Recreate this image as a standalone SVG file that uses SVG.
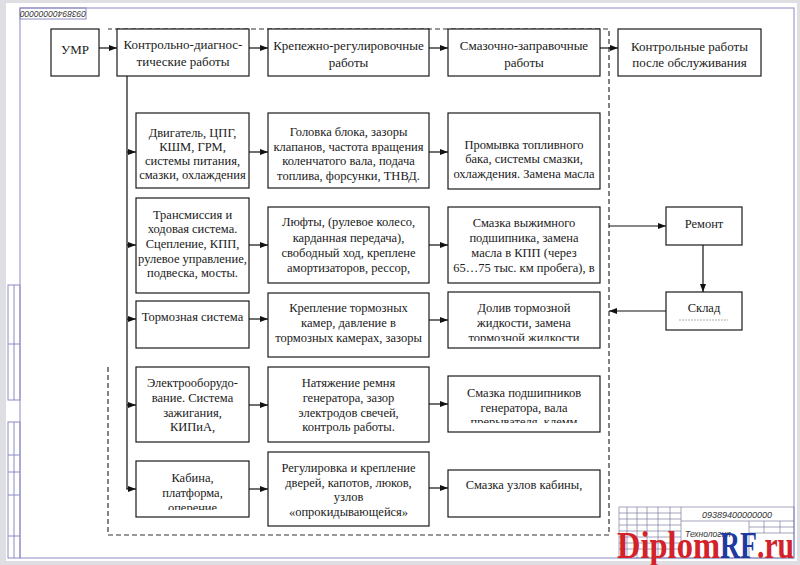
<svg xmlns="http://www.w3.org/2000/svg" width="800" height="565" viewBox="0 0 800 565">
<defs>
<style>
.bx{fill:#fff;stroke:#1a1a1a;stroke-width:1.2}
.t{font-family:"Liberation Serif","Times New Roman",serif;font-size:12.5px;fill:#1a1a1a;text-anchor:middle}
.tt{font-family:"Liberation Serif","Times New Roman",serif;font-size:13px;fill:#1a1a1a;text-anchor:middle}
.c{fill:none;stroke:#111;stroke-width:1.2}
.a{fill:none;stroke:#111;stroke-width:1.2;marker-end:url(#ah)}
.fr{fill:none;stroke:#8c8cc4;stroke-width:1}
.tb{fill:none;stroke:#6a6a96;stroke-width:0.6}
.it{font-family:"Liberation Sans",Arial,sans-serif;font-style:italic;fill:#333}
</style>
<marker id="ah" markerUnits="userSpaceOnUse" markerWidth="8" markerHeight="6" refX="8" refY="3" orient="auto">
<path d="M0,0 L8,3 L0,6 z" fill="#111"/>
</marker>
<clipPath id="cR3"><rect x="448" y="292" width="152" height="49"/></clipPath>
<clipPath id="cR4"><rect x="448" y="376" width="152" height="47"/></clipPath>
<clipPath id="cL5"><rect x="136" y="461" width="113" height="49"/></clipPath>
</defs>

<!-- sheet -->
<rect x="0" y="0" width="800" height="565" fill="#dedee3"/>
<rect x="6" y="3" width="791" height="558" fill="#fff"/>
<g id="frame">
<rect class="fr" x="20" y="8" width="774" height="550"/>
<rect class="fr" x="8" y="285" width="12" height="115"/>
<line class="fr" x1="14" y1="285" x2="14" y2="400"/>
<line class="fr" x1="8" y1="344" x2="20" y2="344"/>
<rect class="fr" x="8" y="422" width="12" height="136"/>
<line class="fr" x1="14" y1="422" x2="14" y2="558"/>
<line class="fr" x1="8" y1="455" x2="20" y2="455"/>
<line class="fr" x1="8" y1="472" x2="20" y2="472"/>
<line class="fr" x1="8" y1="495" x2="20" y2="495"/>
<line class="fr" x1="8" y1="536" x2="20" y2="536"/>
<rect class="fr" x="20" y="8" width="66" height="11"/>
<text class="it" font-size="8.5" transform="rotate(180 53 13.5)" x="53" y="16.5" text-anchor="middle">09389400000000</text>
</g>

<g id="titleblock">
<rect class="tb" x="619" y="507" width="175" height="51"/>
<line class="tb" x1="627" y1="507" x2="627" y2="558"/>
<line class="tb" x1="637" y1="507" x2="637" y2="558"/>
<line class="tb" x1="647" y1="507" x2="647" y2="558"/>
<line class="tb" x1="658" y1="507" x2="658" y2="558"/>
<line class="tb" x1="670" y1="507" x2="670" y2="558"/>
<line class="tb" x1="681" y1="507" x2="681" y2="558"/>
<line class="tb" x1="619" y1="513" x2="681" y2="513"/>
<line class="tb" x1="619" y1="519" x2="681" y2="519"/>
<line class="tb" x1="619" y1="525" x2="681" y2="525"/>
<line class="tb" x1="619" y1="531" x2="681" y2="531"/>
<line class="tb" x1="619" y1="537" x2="681" y2="537"/>
<line class="tb" x1="619" y1="543" x2="681" y2="543"/>
<line class="tb" x1="619" y1="549" x2="681" y2="549"/>
<line class="tb" x1="681" y1="521" x2="794" y2="521"/>
<line class="tb" x1="749" y1="521" x2="749" y2="558"/>
<line class="tb" x1="764" y1="521" x2="764" y2="533"/>
<line class="tb" x1="780" y1="521" x2="780" y2="533"/>
<line class="tb" x1="749" y1="527" x2="794" y2="527"/>
<line class="tb" x1="749" y1="533" x2="794" y2="533"/>
<text class="it" font-size="9" x="737" y="518" text-anchor="middle">09389400000000</text>
<text class="it" font-size="8.5" x="685" y="537">Технология</text>
</g>

<g id="connectors">
<path d="M108,367 V535 H609 V29 H108" fill="none" stroke="#333" stroke-width="1.2" stroke-dasharray="5,3"/>
<line class="a" x1="99" y1="48" x2="117" y2="48"/>
<line class="a" x1="249" y1="48" x2="268" y2="48"/>
<line class="a" x1="429" y1="48" x2="448" y2="48"/>
<line class="a" x1="600" y1="48" x2="618" y2="48"/>
<line class="c" x1="127" y1="76" x2="127" y2="489"/>
<line class="a" x1="127" y1="152" x2="136" y2="152"/>
<line class="a" x1="127" y1="245" x2="136" y2="245"/>
<line class="a" x1="127" y1="319" x2="136" y2="319"/>
<line class="a" x1="127" y1="405" x2="136" y2="405"/>
<line class="a" x1="126.4" y1="489" x2="136" y2="489"/>
<line class="a" x1="249" y1="152" x2="268" y2="152"/>
<line class="a" x1="249" y1="245" x2="268" y2="245"/>
<line class="a" x1="249" y1="319" x2="268" y2="319"/>
<line class="a" x1="249" y1="405" x2="268" y2="405"/>
<line class="a" x1="249" y1="489" x2="268" y2="489"/>
<line class="a" x1="429" y1="152" x2="448" y2="152"/>
<line class="a" x1="429" y1="245" x2="448" y2="245"/>
<line class="a" x1="429" y1="320" x2="448" y2="320"/>
<line class="a" x1="429" y1="404" x2="448" y2="404"/>
<line class="a" x1="429" y1="488" x2="448" y2="488"/>
<line class="a" x1="609" y1="226" x2="666" y2="226"/>
<line class="a" x1="703" y1="245" x2="703" y2="292"/>
<line class="a" x1="666" y1="311" x2="609" y2="311"/>
</g>

<g id="umr"><rect class="bx" x="51" y="29" width="48" height="47"/><text class="tt" font-size="16" x="75" y="54">УМР</text></g>
<g id="kdr"><rect class="bx" x="117" y="29" width="132" height="47"/><text class="tt" x="183" y="49">Контрольно-диагнос-<tspan x="183" y="66">тические работы</tspan></text></g>
<g id="krr"><rect class="bx" x="268" y="29" width="161" height="47"/><text class="tt" x="348.5" y="50">Крепежно-регулировочные<tspan x="348.5" y="67">работы</tspan></text></g>
<g id="szr"><rect class="bx" x="448" y="29" width="152" height="47"/><text class="tt" x="524" y="50">Смазочно-заправочные<tspan x="524" y="67">работы</tspan></text></g>
<g id="kro"><rect class="bx" x="618" y="29" width="143" height="47"/><text class="tt" x="689.5" y="51">Контрольные работы<tspan x="689.5" y="67">после обслуживания</tspan></text></g>

<g id="l1"><rect class="bx" x="136" y="113" width="113" height="75"/><text class="t" x="192.5" y="137">Двигатель, ЦПГ,<tspan x="192.5" y="151">КШМ, ГРМ,</tspan><tspan x="192.5" y="165">системы питания,</tspan><tspan x="192.5" y="179">смазки, охлаждения</tspan></text></g>
<g id="l2"><rect class="bx" x="136" y="198" width="113" height="95"/><text class="t" x="192.5" y="219">Трансмиссия и<tspan x="192.5" y="233">ходовая система.</tspan><tspan x="192.5" y="248">Сцепление, КПП,</tspan><tspan x="192.5" y="263">рулевое управление,</tspan><tspan x="192.5" y="277">подвеска, мосты.</tspan></text></g>
<g id="l3"><rect class="bx" x="136" y="301" width="113" height="47"/><text class="t" x="192.5" y="321">Тормозная система</text></g>
<g id="l4"><rect class="bx" x="136" y="367" width="113" height="75"/><text class="t" x="192.5" y="387">Электрооборудо-<tspan x="192.5" y="402">вание. Система</tspan><tspan x="192.5" y="417">зажигания,</tspan><tspan x="192.5" y="431">КИПиА,</tspan></text></g>
<g id="l5"><rect class="bx" x="136" y="461" width="113" height="56"/><text class="t" clip-path="url(#cL5)" x="192.5" y="482">Кабина,<tspan x="192.5" y="497">платформа,</tspan><tspan x="192.5" y="512">оперение</tspan></text></g>

<g id="m1"><rect class="bx" x="268" y="113" width="161" height="75"/><text class="t" x="348.5" y="136">Головка блока, зазоры<tspan x="348.5" y="151">клапанов, частота вращения</tspan><tspan x="348.5" y="165">коленчатого вала, подача</tspan><tspan x="348.5" y="180">топлива, форсунки, ТНВД.</tspan></text></g>
<g id="m2"><rect class="bx" x="268" y="207" width="161" height="76"/><text class="t" x="348.5" y="226">Люфты, (рулевое колесо,<tspan x="348.5" y="242">карданная передача),</tspan><tspan x="348.5" y="257">свободный ход, креплене</tspan><tspan x="348.5" y="272">амортизаторов, рессор,</tspan></text></g>
<g id="m3"><rect class="bx" x="268" y="293" width="161" height="64"/><text class="t" x="348.5" y="312">Крепление тормозных<tspan x="348.5" y="327">камер, давление в</tspan><tspan x="348.5" y="342">тормозных камерах, зазоры</tspan></text></g>
<g id="m4"><rect class="bx" x="268" y="367" width="161" height="75"/><text class="t" x="348.5" y="387">Натяжение ремня<tspan x="348.5" y="402">генератора, зазор</tspan><tspan x="348.5" y="417">электродов свечей,</tspan><tspan x="348.5" y="431">контроль работы.</tspan></text></g>
<g id="m5"><rect class="bx" x="268" y="452" width="161" height="74"/><text class="t" x="348.5" y="472">Регулировка и крепление<tspan x="348.5" y="487">дверей, капотов, люков,</tspan><tspan x="348.5" y="501">узлов</tspan><tspan x="348.5" y="516">«опрокидывающейся»</tspan></text></g>

<g id="r1"><rect class="bx" x="448" y="113" width="152" height="76"/><text class="t" x="524" y="149">Промывка топливного<tspan x="524" y="163">бака, системы смазки,</tspan><tspan x="524" y="178">охлаждения. Замена масла</tspan></text></g>
<g id="r2"><rect class="bx" x="448" y="207" width="152" height="76"/><text class="t" x="524" y="227">Смазка выжимного<tspan x="524" y="242">подшипника, замена</tspan><tspan x="524" y="257">масла в КПП (через</tspan><tspan x="524" y="272">65…75 тыс. км пробега), в</tspan></text></g>
<g id="r3"><rect class="bx" x="448" y="292" width="152" height="56"/><text class="t" clip-path="url(#cR3)" x="524" y="312">Долив тормозной<tspan x="524" y="327">жидкости, замена</tspan><tspan x="524" y="342">тормозной жидкости</tspan></text></g>
<g id="r4"><rect class="bx" x="448" y="376" width="152" height="56"/><text class="t" clip-path="url(#cR4)" x="524" y="397">Смазка подшипников<tspan x="524" y="412">генератора, вала</tspan><tspan x="524" y="426">прерывателя, клемм</tspan></text></g>
<g id="r5"><rect class="bx" x="448" y="470" width="152" height="47"/><text class="t" x="524" y="489">Смазка узлов кабины,</text></g>

<g id="remont"><rect class="bx" x="666" y="207" width="76" height="38"/><text class="t" x="704" y="228">Ремонт</text></g>
<g id="sklad"><rect class="bx" x="666" y="292" width="76" height="38"/><text class="t" x="704" y="312">Склад</text><line x1="679" y1="320" x2="728" y2="320" stroke="#999" stroke-width="0.8" stroke-dasharray="2,1"/></g>

<g id="watermark" font-family="'Liberation Serif','Times New Roman',serif" font-weight="bold" font-size="38">
<text x="617" y="558" fill="#d3222a" textLength="103" lengthAdjust="spacingAndGlyphs">Diplom</text>
<text x="720" y="558" fill="#1f3a9e" textLength="37" lengthAdjust="spacingAndGlyphs">RF</text>
<text x="757" y="558" fill="#d3222a" textLength="37" lengthAdjust="spacingAndGlyphs">.ru</text>
</g>
</svg>
